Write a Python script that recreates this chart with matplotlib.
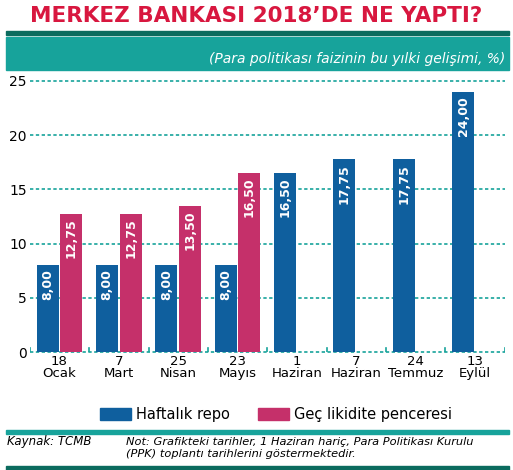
import matplotlib
matplotlib.use("Agg")
import matplotlib.pyplot as plt
from matplotlib.patches import Rectangle
import numpy as np

# -----------------------------
# Data
# -----------------------------
dates = ["18\nOcak", "7\nMart", "25\nNisan", "23\nMayıs", "1\nHaziran", "7\nHaziran", "24\nTemmuz", "13\nEylül"]
repo = [8.00, 8.00, 8.00, 8.00, 16.50, 17.75, 17.75, 24.00]
gec = [12.75, 12.75, 13.50, 16.50, None, None, None, None]
yticks = [0, 5, 10, 15, 20, 25]

BLUE = "#0f5f9e"
PINK = "#c5306a"
TEAL = "#17a39b"
DARK = "#0b6b5e"
RED = "#d8173f"
NARROW = ["Liberation Sans Narrow", "DejaVu Sans"]

fig = plt.figure(figsize=(5.13, 4.70), dpi=100)

# -----------------------------
# Header
# -----------------------------
fig.text(0.5, 0.965, "MERKEZ BANKASI 2018’DE NE YAPTI?", ha="center", va="center",
         color=RED, fontsize=15.5, fontweight="bold", family=NARROW)
fig.add_artist(Rectangle((0.012, 0.925), 0.98, 0.008, transform=fig.transFigure, color=DARK))
fig.add_artist(Rectangle((0.012, 0.852), 0.98, 0.07, transform=fig.transFigure, color=TEAL))
fig.text(0.985, 0.875, "(Para politikası faizinin bu yılki gelişimi, %)", ha="right", va="center",
         color="white", fontsize=10, style="italic")

# -----------------------------
# Bars
# -----------------------------
ax = fig.add_axes([0.058, 0.251, 0.926, 0.577])
x = np.arange(len(dates))
w = 0.37
ax.bar(x - 0.2, repo, w, color=BLUE, zorder=3)
for i, v in enumerate(repo):
    ax.text(i - 0.2, v - 0.4, f"{v:.2f}".replace(".", ","), rotation=90, ha="center", va="top",
            color="white", fontsize=9, fontweight="bold", family=NARROW, zorder=4)
for i, v in enumerate(gec):
    if v is None:
        continue
    ax.bar(i + 0.2, v, w, color=PINK, zorder=3)
    ax.text(i + 0.2, v - 0.4, f"{v:.2f}".replace(".", ","), rotation=90, ha="center", va="top",
            color="white", fontsize=9, fontweight="bold", family=NARROW, zorder=4)

ax.set_xlim(-0.5, len(dates) - 0.5)
ax.set_ylim(0, 25)
for y in yticks:
    ax.axhline(y, color=TEAL, linestyle=(0, (2, 1.5)), linewidth=1.2, clip_on=False, zorder=1)
for b in np.arange(-0.5, len(dates), 1):
    ax.plot([b, b], [0, 0.4], color=TEAL, linewidth=1.2, zorder=2)
for s in ax.spines.values():
    s.set_visible(False)
ax.set_yticks(yticks)
ax.set_yticklabels([str(t) for t in yticks], fontsize=10, family=NARROW)
ax.set_xticks(x)
ax.set_xticklabels(dates, fontsize=9.5, family=NARROW, linespacing=0.95)
ax.tick_params(length=0, pad=2)

# -----------------------------
# Legend and footer
# -----------------------------
fig.add_artist(Rectangle((0.195, 0.106), 0.06, 0.026, transform=fig.transFigure, color=BLUE))
fig.text(0.265, 0.119, "Haftalık repo", va="center", fontsize=10.5, family=NARROW)
fig.add_artist(Rectangle((0.503, 0.106), 0.06, 0.026, transform=fig.transFigure, color=PINK))
fig.text(0.573, 0.119, "Geç likidite penceresi", va="center", fontsize=10.5, family=NARROW)
fig.add_artist(Rectangle((0.012, 0.077), 0.98, 0.008, transform=fig.transFigure, color=TEAL))
fig.text(0.014, 0.06, "Kaynak: TCMB", va="center", fontsize=8.5, style="italic")
fig.text(0.245, 0.06, "Not: Grafikteki tarihler, 1 Haziran hariç, Para Politikası Kurulu", va="center",
         fontsize=8.2, style="italic")
fig.text(0.245, 0.033, "(PPK) toplantı tarihlerini göstermektedir.", va="center", fontsize=8.2, style="italic")
fig.add_artist(Rectangle((0.012, 0.0), 0.98, 0.008, transform=fig.transFigure, color=DARK))

fig.savefig("out.png", dpi=100)
